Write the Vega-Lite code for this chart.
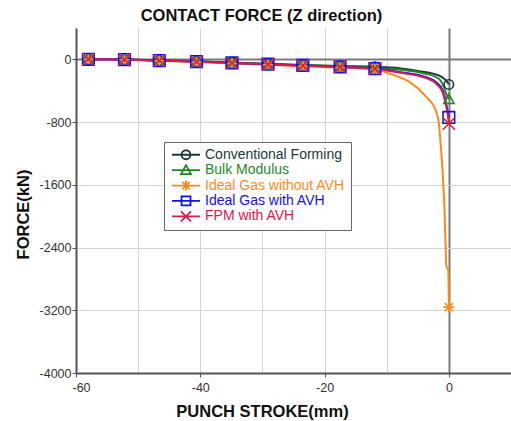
{
  "$schema": "https://vega.github.io/schema/vega-lite/v6.json",
  "width": 435,
  "height": 345,
  "autosize": {"type": "none"},
  "padding": {"left": 76, "top": 28, "right": 0, "bottom": 48},
  "background": "white",
  "title": {"text": "CONTACT FORCE (Z direction)", "fontSize": 16.5, "font": "Liberation Sans", "fontWeight": "bold", "color": "#111", "anchor": "middle", "dx": -32, "dy": 17, "baseline": "alphabetic", "offset": 8},
  "config": {"view": {"stroke": null}, "font": "Liberation Sans"},
  "datasets": {
    "lines": [
      {"s": "Conventional Forming", "x": -58, "y": 0},
      {"s": "Conventional Forming", "x": -52.2, "y": -2},
      {"s": "Conventional Forming", "x": -46.6, "y": -12},
      {"s": "Conventional Forming", "x": -40.6, "y": -25},
      {"s": "Conventional Forming", "x": -34.9, "y": -40},
      {"s": "Conventional Forming", "x": -29.1, "y": -57},
      {"s": "Conventional Forming", "x": -23.5, "y": -72},
      {"s": "Conventional Forming", "x": -17.5, "y": -86},
      {"s": "Conventional Forming", "x": -11.9, "y": -95},
      {"s": "Conventional Forming", "x": -8, "y": -112},
      {"s": "Conventional Forming", "x": -4.8, "y": -150},
      {"s": "Conventional Forming", "x": -2.4, "y": -185},
      {"s": "Conventional Forming", "x": -1.6, "y": -205},
      {"s": "Conventional Forming", "x": -0.8, "y": -245},
      {"s": "Conventional Forming", "x": -0.3, "y": -285},
      {"s": "Conventional Forming", "x": 0, "y": -320},
      {"s": "Bulk Modulus", "x": -58, "y": 0},
      {"s": "Bulk Modulus", "x": -52.2, "y": -3},
      {"s": "Bulk Modulus", "x": -46.6, "y": -14},
      {"s": "Bulk Modulus", "x": -40.6, "y": -27},
      {"s": "Bulk Modulus", "x": -34.9, "y": -43},
      {"s": "Bulk Modulus", "x": -29.1, "y": -60},
      {"s": "Bulk Modulus", "x": -23.5, "y": -76},
      {"s": "Bulk Modulus", "x": -17.5, "y": -92},
      {"s": "Bulk Modulus", "x": -11.9, "y": -108},
      {"s": "Bulk Modulus", "x": -8, "y": -130},
      {"s": "Bulk Modulus", "x": -4.8, "y": -165},
      {"s": "Bulk Modulus", "x": -3.75, "y": -183},
      {"s": "Bulk Modulus", "x": -1.6, "y": -247},
      {"s": "Bulk Modulus", "x": -0.8, "y": -353},
      {"s": "Bulk Modulus", "x": -0.27, "y": -470},
      {"s": "Bulk Modulus", "x": 0, "y": -510},
      {"s": "Ideal Gas without AVH", "x": -58, "y": 0},
      {"s": "Ideal Gas without AVH", "x": -52.2, "y": -4},
      {"s": "Ideal Gas without AVH", "x": -46.6, "y": -18},
      {"s": "Ideal Gas without AVH", "x": -40.6, "y": -33},
      {"s": "Ideal Gas without AVH", "x": -34.9, "y": -52},
      {"s": "Ideal Gas without AVH", "x": -29.1, "y": -70},
      {"s": "Ideal Gas without AVH", "x": -23.5, "y": -88},
      {"s": "Ideal Gas without AVH", "x": -17.5, "y": -106},
      {"s": "Ideal Gas without AVH", "x": -11.9, "y": -130},
      {"s": "Ideal Gas without AVH", "x": -9.1, "y": -195},
      {"s": "Ideal Gas without AVH", "x": -6.4, "y": -285},
      {"s": "Ideal Gas without AVH", "x": -3.75, "y": -470},
      {"s": "Ideal Gas without AVH", "x": -2.1, "y": -650},
      {"s": "Ideal Gas without AVH", "x": -1.6, "y": -820},
      {"s": "Ideal Gas without AVH", "x": -1.33, "y": -1070},
      {"s": "Ideal Gas without AVH", "x": -0.96, "y": -1500},
      {"s": "Ideal Gas without AVH", "x": -0.7, "y": -1930},
      {"s": "Ideal Gas without AVH", "x": -0.53, "y": -2350},
      {"s": "Ideal Gas without AVH", "x": -0.43, "y": -2630},
      {"s": "Ideal Gas without AVH", "x": -0.1, "y": -2690},
      {"s": "Ideal Gas without AVH", "x": 0, "y": -3160},
      {"s": "Ideal Gas  with AVH", "x": -58, "y": 0},
      {"s": "Ideal Gas  with AVH", "x": -52.2, "y": -3},
      {"s": "Ideal Gas  with AVH", "x": -46.6, "y": -15},
      {"s": "Ideal Gas  with AVH", "x": -40.6, "y": -28},
      {"s": "Ideal Gas  with AVH", "x": -34.9, "y": -45},
      {"s": "Ideal Gas  with AVH", "x": -29.1, "y": -62},
      {"s": "Ideal Gas  with AVH", "x": -23.5, "y": -78},
      {"s": "Ideal Gas  with AVH", "x": -17.5, "y": -95},
      {"s": "Ideal Gas  with AVH", "x": -11.9, "y": -118},
      {"s": "Ideal Gas  with AVH", "x": -8, "y": -160},
      {"s": "Ideal Gas  with AVH", "x": -3.75, "y": -225},
      {"s": "Ideal Gas  with AVH", "x": -2.1, "y": -290},
      {"s": "Ideal Gas  with AVH", "x": -1.0, "y": -395},
      {"s": "Ideal Gas  with AVH", "x": -0.43, "y": -565},
      {"s": "Ideal Gas  with AVH", "x": 0, "y": -740},
      {"s": "FPM with AVH", "x": -58, "y": 0},
      {"s": "FPM with AVH", "x": -52.2, "y": -3},
      {"s": "FPM with AVH", "x": -46.6, "y": -16},
      {"s": "FPM with AVH", "x": -40.6, "y": -29},
      {"s": "FPM with AVH", "x": -34.9, "y": -46},
      {"s": "FPM with AVH", "x": -29.1, "y": -63},
      {"s": "FPM with AVH", "x": -23.5, "y": -80},
      {"s": "FPM with AVH", "x": -17.5, "y": -97},
      {"s": "FPM with AVH", "x": -11.9, "y": -120},
      {"s": "FPM with AVH", "x": -8, "y": -168},
      {"s": "FPM with AVH", "x": -3.75, "y": -235},
      {"s": "FPM with AVH", "x": -2.1, "y": -305},
      {"s": "FPM with AVH", "x": -1.0, "y": -420},
      {"s": "FPM with AVH", "x": -0.43, "y": -600},
      {"s": "FPM with AVH", "x": -0.15, "y": -720},
      {"s": "FPM with AVH", "x": 0, "y": -820}
    ],
    "markers": [
      {"s": "Conventional Forming", "x": -58, "y": 0},
      {"s": "Conventional Forming", "x": -52.2, "y": -2},
      {"s": "Conventional Forming", "x": -46.6, "y": -12},
      {"s": "Conventional Forming", "x": -40.6, "y": -25},
      {"s": "Conventional Forming", "x": -34.9, "y": -40},
      {"s": "Conventional Forming", "x": -29.1, "y": -57},
      {"s": "Conventional Forming", "x": -23.5, "y": -72},
      {"s": "Conventional Forming", "x": -17.5, "y": -86},
      {"s": "Conventional Forming", "x": -11.9, "y": -95},
      {"s": "Conventional Forming", "x": 0, "y": -320},
      {"s": "Bulk Modulus", "x": -58, "y": 0},
      {"s": "Bulk Modulus", "x": -52.2, "y": -3},
      {"s": "Bulk Modulus", "x": -46.6, "y": -14},
      {"s": "Bulk Modulus", "x": -40.6, "y": -27},
      {"s": "Bulk Modulus", "x": -34.9, "y": -43},
      {"s": "Bulk Modulus", "x": -29.1, "y": -60},
      {"s": "Bulk Modulus", "x": -23.5, "y": -76},
      {"s": "Bulk Modulus", "x": -17.5, "y": -92},
      {"s": "Bulk Modulus", "x": -11.9, "y": -108},
      {"s": "Bulk Modulus", "x": 0, "y": -510},
      {"s": "Ideal Gas without AVH", "x": -58, "y": 0},
      {"s": "Ideal Gas without AVH", "x": -52.2, "y": -4},
      {"s": "Ideal Gas without AVH", "x": -46.6, "y": -18},
      {"s": "Ideal Gas without AVH", "x": -40.6, "y": -33},
      {"s": "Ideal Gas without AVH", "x": -34.9, "y": -52},
      {"s": "Ideal Gas without AVH", "x": -29.1, "y": -70},
      {"s": "Ideal Gas without AVH", "x": -23.5, "y": -88},
      {"s": "Ideal Gas without AVH", "x": -17.5, "y": -106},
      {"s": "Ideal Gas without AVH", "x": -11.9, "y": -130},
      {"s": "Ideal Gas without AVH", "x": 0, "y": -3160},
      {"s": "Ideal Gas  with AVH", "x": -58, "y": 0},
      {"s": "Ideal Gas  with AVH", "x": -52.2, "y": -3},
      {"s": "Ideal Gas  with AVH", "x": -46.6, "y": -15},
      {"s": "Ideal Gas  with AVH", "x": -40.6, "y": -28},
      {"s": "Ideal Gas  with AVH", "x": -34.9, "y": -45},
      {"s": "Ideal Gas  with AVH", "x": -29.1, "y": -62},
      {"s": "Ideal Gas  with AVH", "x": -23.5, "y": -78},
      {"s": "Ideal Gas  with AVH", "x": -17.5, "y": -95},
      {"s": "Ideal Gas  with AVH", "x": -11.9, "y": -118},
      {"s": "Ideal Gas  with AVH", "x": 0, "y": -740},
      {"s": "FPM with AVH", "x": -58, "y": 0},
      {"s": "FPM with AVH", "x": -52.2, "y": -3},
      {"s": "FPM with AVH", "x": -46.6, "y": -16},
      {"s": "FPM with AVH", "x": -40.6, "y": -29},
      {"s": "FPM with AVH", "x": -34.9, "y": -46},
      {"s": "FPM with AVH", "x": -29.1, "y": -63},
      {"s": "FPM with AVH", "x": -23.5, "y": -80},
      {"s": "FPM with AVH", "x": -17.5, "y": -97},
      {"s": "FPM with AVH", "x": -11.9, "y": -120},
      {"s": "FPM with AVH", "x": 0, "y": -820}
    ]
  },
  "layer": [
    {
      "data": {"name": "lines"},
      "mark": {"type": "line", "strokeWidth": 2, "interpolate": "monotone"},
      "encoding": {
        "x": {
          "field": "x", "type": "quantitative",
          "scale": {"domain": [-60, 10], "nice": false, "zero": false},
          "axis": {
            "values": [-60, -50, -40, -30, -20, -10, 0, 10],
            "labelExpr": "datum.value % 20 === 0 ? '' + datum.value : ''",
            "labelFlush": true,
            "labelFlushOffset": 4,
            "labelFontSize": 12.5, "labelColor": "#333", "labelPadding": 4, "labelFont": "Liberation Sans",
            "tickSize": 4, "tickColor": "#555",
            "tickOpacity": {"condition": {"test": "datum.value % 20 === 0", "value": 1}, "value": 0},
            "domainColor": "#555", "domainWidth": 2,
            "grid": true,
            "gridColor": {"condition": {"test": "datum.value === 0", "value": "#7a7a7a"}, "value": "#d4d4d4"},
            "gridWidth": {"condition": {"test": "datum.value === 0", "value": 2}, "value": 1},
            "gridOpacity": 1,
            "title": "PUNCH STROKE(mm)", "titleFontSize": 16.5, "titleFontWeight": "bold", "titleColor": "#111", "titleFont": "Liberation Sans",
            "titleX": 186, "titleY": 38, "titleBaseline": "middle"
          }
        },
        "y": {
          "field": "y", "type": "quantitative",
          "scale": {"domain": [-4000, 400], "nice": false, "zero": false},
          "axis": {
            "values": [-4000, -3600, -3200, -2800, -2400, -2000, -1600, -1200, -800, -400, 0, 400],
            "labelExpr": "datum.value % 800 === 0 ? '' + datum.value : ''",
            "labelFontSize": 12.5, "labelColor": "#333", "labelPadding": 1, "labelFont": "Liberation Sans",
            "tickSize": 4, "tickColor": "#555",
            "tickOpacity": {"condition": {"test": "datum.value % 800 === 0", "value": 1}, "value": 0},
            "domainColor": "#555", "domainWidth": 2,
            "grid": true,
            "gridColor": {"condition": {"test": "datum.value === 0", "value": "#7a7a7a"}, "value": "#d4d4d4"},
            "gridWidth": {"condition": {"test": "datum.value === 0", "value": 2}, "value": 1},
            "gridOpacity": 1,
            "title": "FORCE(kN)", "titleFontSize": 16.5, "titleFontWeight": "bold", "titleColor": "#111", "titleFont": "Liberation Sans",
            "titleX": -53, "titleY": 186, "titleBaseline": "middle"
          }
        },
        "color": {
          "field": "s", "type": "nominal",
          "scale": {
            "domain": ["Conventional Forming", "Bulk Modulus", "Ideal Gas without AVH", "Ideal Gas  with AVH", "FPM with AVH"],
            "range": ["#1a3a39", "#1f8a1f", "#ff8a1c", "#1010ff", "#e0184a"]
          },
          "legend": null
        }
      }
    },
    {
      "data": {"name": "markers"},
      "mark": {"type": "point", "filled": false, "strokeWidth": 1.6, "opacity": 1},
      "encoding": {
        "x": {"field": "x", "type": "quantitative"},
        "y": {"field": "y", "type": "quantitative"},
        "color": {"field": "s", "type": "nominal", "legend": null},
        "shape": {
          "field": "s", "type": "nominal",
          "scale": {
            "domain": ["Conventional Forming", "Bulk Modulus", "Ideal Gas without AVH", "Ideal Gas  with AVH", "FPM with AVH"],
            "range": ["circle", "M0,-1L1,0.8L-1,0.8Z", "M-1,0L1,0M0,-1L0,1M-0.75,-0.75L0.75,0.75M-0.75,0.75L0.75,-0.75", "M-1,-1L1,-1L1,1L-1,1Z", "M-1,-1L1,1M-1,1L1,-1"]
          },
          "legend": null
        },
        "size": {
          "field": "s", "type": "nominal",
          "scale": {
            "domain": ["Conventional Forming", "Bulk Modulus", "Ideal Gas without AVH", "Ideal Gas  with AVH", "FPM with AVH"],
            "range": [90, 150, 170, 160, 180]
          },
          "legend": null
        }
      }
    },
    {
      "data": {"name": "markers"},
      "transform": [{"filter": "false"}],
      "mark": {"type": "point", "filled": false, "strokeWidth": 1.6, "opacity": 1},
      "encoding": {
        "x": {"field": "x", "type": "quantitative"},
        "y": {"field": "y", "type": "quantitative"},
        "shape": {
          "field": "s", "type": "nominal",
          "scale": {
            "domain": ["Conventional Forming", "Bulk Modulus", "Ideal Gas without AVH", "Ideal Gas  with AVH", "FPM with AVH"],
            "range": [
              "M-2.8,0L2.8,0M-0.9,0A0.9,0.9,0,1,1,0.9,0A0.9,0.9,0,1,1,-0.9,0",
              "M-2.8,0L2.8,0M0,-1L1,0.8L-1,0.8Z",
              "M-2.8,0L2.8,0M0,-1L0,1M-0.75,-0.75L0.75,0.75M-0.75,0.75L0.75,-0.75",
              "M-2.8,0L2.8,0M-0.9,-0.9L0.9,-0.9L0.9,0.9L-0.9,0.9Z",
              "M-2.8,0L2.8,0M-1,-1L1,1M-1,1L1,-1"
            ]
          },
          "legend": {
            "title": null,
            "orient": "none",
            "legendX": 88,
            "legendY": 114,
            "strokeColor": "#666",
            "fillColor": "white",
            "padding": 6,
            "symbolSize": 100,
            "symbolStrokeWidth": 1.8,
            "symbolOffset": 9,
            "labelOffset": 12,
            "labelFontSize": 14,
            "labelFont": "Liberation Sans",
            "clipHeight": 13.5,
            "rowPadding": 0.4,
            "encoding": {
              "symbols": {"stroke": {"value": {"expr": "scale('color', datum.value)"}}, "opacity": {"value": 1}, "fill": {"value": "transparent"}},
              "labels": {"fill": {"value": {"expr": "scale('color', datum.value)"}}}
            }
          }
        }
      }
    }
  ],
  "resolve": {"scale": {"shape": "independent", "size": "independent"}}
}
